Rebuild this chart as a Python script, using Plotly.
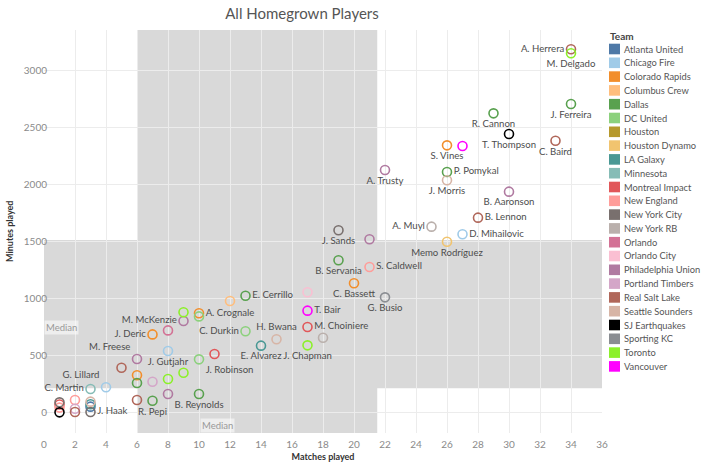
import plotly.graph_objects as go

# ---------------- data ----------------
players = [
    "A. Herrera", "M. Delgado", "J. Ferreira", "R. Cannon", "T. Thompson", "C. Baird",
    "S. Vines", "", "P. Pomykal", "J. Morris", "B. Aaronson", "A. Trusty", "B. Lennon",
    "A. Muyl", "D. Mihailovic", "Memo Rodríguez", "J. Sands", "", "B. Servania",
    "S. Caldwell", "C. Bassett", "", "T. Bair", "G. Busio", "E. Cerrillo", "",
    "A. Crognale", "", "", "M. McKenzie", "J. Deric", "", "M. Freese", "J. Gutjahr",
    "", "", "", "", "", "", "J. Robinson", "", "B. Reynolds", "", "R. Pepi", "",
    "C. Durkin", "H. Bwana", "E. Alvarez", "J. Chapman", "M. Choiniere", "",
    "G. Lillard", "C. Martin",
    "", "", "", "", "", "", "", "", "", "", "J. Haak",
]
teams = [
    "Real Salt Lake", "Toronto", "Dallas", "Dallas", "SJ Earthquakes", "Real Salt Lake",
    "Colorado Rapids", "Vancouver", "Dallas", "Seattle Sounders", "Philadelphia Union",
    "Philadelphia Union", "Real Salt Lake", "New York RB", "Chicago Fire", "Houston Dynamo",
    "New York City", "Philadelphia Union", "Dallas", "New England", "Colorado Rapids",
    "Orlando City", "Vancouver", "Sporting KC", "Dallas", "Columbus Crew",
    "Colorado Rapids", "DC United", "Toronto", "Philadelphia Union", "Colorado Rapids",
    "Orlando", "Philadelphia Union", "Chicago Fire",
    "Real Salt Lake", "Colorado Rapids", "Dallas", "Portland Timbers", "Toronto", "Toronto",
    "DC United", "Montreal Impact", "Dallas", "Real Salt Lake", "Dallas", "Philadelphia Union",
    "DC United", "Seattle Sounders", "LA Galaxy", "Toronto", "Montreal Impact", "New York RB",
    "Chicago Fire", "Minnesota",
    "New York City", "Montreal Impact", "New England", "SJ Earthquakes",
    "New England", "Portland Timbers", "Real Salt Lake",
    "Seattle Sounders", "LA Galaxy", "Atlanta United", "New York City",
]
matches = [
    34, 34, 34, 29, 30, 33,
    26, 27, 26, 26, 30, 22, 28,
    25, 27, 26, 19, 21, 19,
    21, 20, 17, 17, 22, 13, 12,
    10, 10, 9, 9, 7, 8, 6, 8,
    5, 6, 6, 7, 8, 9, 10, 11, 10, 6, 7, 8,
    13, 15, 14, 17, 17, 18,
    4, 3,
    1, 1, 1, 1, 2, 2, 2, 3, 3, 3, 3,
]
minutes = [
    3188, 3153, 2708, 2626, 2445, 2386,
    2345, 2339, 2111, 2039, 1939, 2129, 1711,
    1632, 1565, 1500, 1600, 1521, 1337,
    1278, 1135, 1056, 895, 1012, 1026, 980,
    872, 845, 881, 804, 687, 722, 471, 541,
    395, 328, 261, 272, 296, 351, 468, 515, 164, 111, 105, 164,
    714, 644, 588, 591, 752, 658,
    223, 208,
    91, 72, 45, 3, 111, 35, 6, 97, 74, 53, 6,
]
label_pos = {
    "A. Herrera": "middle left", "P. Pomykal": "middle right", "B. Lennon": "middle right",
    "A. Muyl": "middle left", "D. Mihailovic": "middle right", "S. Caldwell": "middle right",
    "T. Bair": "middle right", "E. Cerrillo": "middle right", "A. Crognale": "middle right",
    "M. McKenzie": "middle left", "J. Deric": "middle left", "M. Freese": "top left",
    "J. Robinson": "bottom right", "C. Durkin": "middle left", "H. Bwana": "top center",
    "M. Choiniere": "middle right", "G. Lillard": "top left", "C. Martin": "middle left",
    "J. Haak": "middle right",
}

team_order = [
    "Atlanta United", "Chicago Fire", "Colorado Rapids", "Columbus Crew", "Dallas",
    "DC United", "Houston", "Houston Dynamo", "LA Galaxy", "Minnesota", "Montreal Impact",
    "New England", "New York City", "New York RB", "Orlando", "Orlando City",
    "Philadelphia Union", "Portland Timbers", "Real Salt Lake", "Seattle Sounders",
    "SJ Earthquakes", "Sporting KC", "Toronto", "Vancouver",
]
team_colors = [
    "#4E79A7", "#A0CBE8", "#F28E2B", "#FFBE7D", "#59A14F",
    "#8CD17D", "#B6992D", "#F1C46F", "#499894", "#86BCB6", "#E15759",
    "#FF9D9A", "#79706E", "#BAB0AC", "#D37295", "#FABFD2",
    "#B07AA1", "#D4A6C8", "#B0675A", "#D7B5A6",
    "#000000", "#8A8D92", "#8CF02A", "#FF00FF",
]

median_matches = 10
median_minutes = 680
band_matches = (6, 21.5)
band_minutes = (215, 1515)

# ---------------- figure ----------------
FONT = "Lato"
W, H = 720, 470
ML, MR, MT, MB = 44, 118, 30, 37
PW, PH = W - ML - MR, H - MT - MB

fig = go.Figure()
color_of = dict(zip(team_order, team_colors))

for team in team_order:
    idx = [i for i, t in enumerate(teams) if t == team]
    if not idx:
        continue
    fig.add_trace(go.Scatter(
        x=[matches[i] for i in idx],
        y=[minutes[i] for i in idx],
        mode="markers+text",
        text=[players[i] for i in idx],
        textposition=[label_pos.get(players[i], "bottom center") for i in idx],
        textfont=dict(family=FONT, size=9.6, color="#4d4d4d"),
        marker=dict(symbol="circle-open", size=9, color=color_of[team],
                    line=dict(width=1.6, color=color_of[team])),
        name=team, showlegend=False, cliponaxis=False,
    ))

shapes = [
    dict(type="rect", xref="x", yref="y", x0=band_matches[0], x1=band_matches[1],
         y0=-178, y1=3357, fillcolor="#d9d9d9", line=dict(width=0), layer="below"),
    dict(type="rect", xref="x", yref="y", x0=0, x1=36, y0=band_minutes[0], y1=band_minutes[1],
         fillcolor="#d9d9d9", line=dict(width=0), layer="below"),
    dict(type="line", xref="x", yref="paper", x0=median_matches, x1=median_matches, y0=0, y1=1,
         line=dict(color="#a0a0a0", width=1.5), layer="below"),
    dict(type="line", xref="paper", yref="y", x0=0, x1=1, y0=median_minutes, y1=median_minutes,
         line=dict(color="#a0a0a0", width=1.5), layer="below"),
]

def px_x(p):
    return (p - ML) / PW

def px_y(p):
    return 1 - (p - MT) / PH

annotations = [
    dict(xref="paper", yref="y", x=0, y=median_minutes, text="Median", showarrow=False,
         xanchor="left", yanchor="bottom", yshift=0, bgcolor="rgba(255,255,255,0.55)",
         font=dict(family=FONT, size=9.5, color="#999999"), borderpad=1),
    dict(xref="x", yref="paper", x=median_matches, y=0, text="Median", showarrow=False,
         xanchor="left", yanchor="bottom", xshift=1, bgcolor="rgba(255,255,255,0.55)",
         font=dict(family=FONT, size=9.5, color="#999999"), borderpad=1),
    dict(xref="paper", yref="paper", x=px_x(9.5), y=0.5, text="<b>Minutes played</b>",
         textangle=-90, showarrow=False, xanchor="center", yanchor="middle",
         font=dict(family=FONT, size=9, color="#333333")),
]

annotations.append(dict(xref="paper", yref="paper", x=px_x(608), y=px_y(36), text="<b>Team</b>",
                        showarrow=False, xanchor="left", yanchor="middle",
                        font=dict(family=FONT, size=10, color="#444444")))
for i, (t, c) in enumerate(zip(team_order, team_colors)):
    cy = 49 + 13.8 * i
    shapes.append(dict(type="rect", xref="paper", yref="paper",
                       x0=px_x(609), x1=px_x(620), y0=px_y(cy + 5.3), y1=px_y(cy - 5.3),
                       fillcolor=c, line=dict(width=0)))
    annotations.append(dict(xref="paper", yref="paper", x=px_x(622), y=px_y(cy), text=t,
                            showarrow=False, xanchor="left", yanchor="middle",
                            font=dict(family=FONT, size=9.3, color="#555555")))

fig.update_layout(
    width=W, height=H,
    margin=dict(l=ML, r=MR, t=MT, b=MB, autoexpand=False),
    paper_bgcolor="white", plot_bgcolor="white",
    title=dict(text="All Homegrown Players", x=302 / W, xanchor="center", y=1 - 14 / H,
               yanchor="middle", font=dict(family=FONT, size=15, color="#555555")),
    shapes=shapes, annotations=annotations,
    font=dict(family=FONT),
)
fig.update_xaxes(range=[0, 36], tickmode="array", tickvals=list(range(0, 37, 2)),
                 showgrid=True, gridcolor="#ececec", gridwidth=1, zeroline=False,
                 showline=False, ticks="", ticklabelstandoff=4,
                 tickfont=dict(family=FONT, size=10, color="#8a8a8a"),
                 title=dict(text="<b>Matches played</b>", standoff=4,
                            font=dict(family=FONT, size=9, color="#333333")))
fig.update_yaxes(range=[-178, 3357], tickmode="array", tickvals=list(range(0, 3001, 500)),
                 showgrid=True, gridcolor="#ececec", gridwidth=1, zeroline=False,
                 showline=False, ticks="", ticklabelstandoff=-4,
                 tickfont=dict(family=FONT, size=10, color="#8a8a8a"))

fig.write_html("out.html", config={"displayModeBar": False},
               post_script="document.body.style.margin='0';")
